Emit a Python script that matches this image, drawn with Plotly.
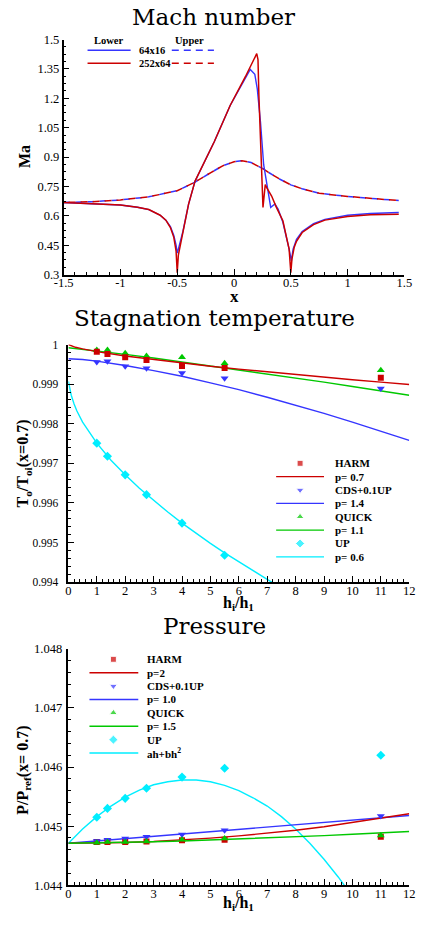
import plotly.graph_objects as go

# ---------------- data: Mach number ----------------
mach_x_upper = [-1.5, -1.25, -1.0, -0.75, -0.5, -0.35, -0.2, -0.1, 0.0, 0.07, 0.15, 0.2,
                0.25, 0.3, 0.4, 0.5, 0.6, 0.75, 1.0, 1.25, 1.45]
mach_upper_64 = [0.668, 0.672, 0.681, 0.697, 0.728, 0.770, 0.822, 0.855, 0.876, 0.881, 0.872, 0.858,
                 0.842, 0.823, 0.788, 0.758, 0.738, 0.715, 0.699, 0.687, 0.678]
mach_upper_252 = [0.668, 0.672, 0.681, 0.697, 0.728, 0.770, 0.822, 0.855, 0.876, 0.881, 0.872, 0.858,
                  0.842, 0.823, 0.788, 0.758, 0.738, 0.715, 0.699, 0.687, 0.678]

mach_x_lower_64 = [-1.5, -1.25, -1.0, -0.85, -0.75, -0.65, -0.6, -0.56, -0.53, -0.51, -0.5, -0.49,
                   -0.47, -0.45, -0.4, -0.343, -0.174, -0.034, 0.143, 0.183, 0.205, 0.233, 0.261,
                   0.289, 0.323, 0.36, 0.388, 0.43, 0.46, 0.485, 0.505, 0.52, 0.55, 0.6, 0.7, 0.8,
                   1.0, 1.2, 1.45]
mach_lower_64 = [0.668, 0.663, 0.655, 0.644, 0.632, 0.603, 0.578, 0.545, 0.50, 0.45, 0.41, 0.43,
                 0.47, 0.52, 0.66, 0.777, 0.978, 1.163, 1.347, 1.322, 1.247, 1.079, 0.861,
                 0.760, 0.643, 0.660, 0.634, 0.567, 0.50, 0.43, 0.37, 0.43, 0.48, 0.52, 0.56, 0.582,
                 0.603, 0.612, 0.617]

mach_x_lower_252 = [-1.5, -1.25, -1.0, -0.85, -0.75, -0.65, -0.6, -0.56, -0.53, -0.51, -0.5, -0.49,
                    -0.47, -0.45, -0.4, -0.343, -0.174, -0.034, 0.1, 0.200, 0.211, 0.219, 0.233,
                    0.247, 0.255, 0.275, 0.289, 0.331, 0.373, 0.43, 0.46, 0.485, 0.5, 0.51, 0.53,
                    0.55, 0.6, 0.7, 0.8, 1.0, 1.2, 1.45]
mach_lower_252 = [0.668, 0.663, 0.655, 0.644, 0.632, 0.603, 0.578, 0.54, 0.49, 0.42, 0.31, 0.40,
                  0.46, 0.52, 0.66, 0.777, 0.978, 1.163, 1.31, 1.428, 1.398, 1.213, 0.961,
                  0.760, 0.643, 0.760, 0.743, 0.701, 0.643, 0.575, 0.50, 0.43, 0.31, 0.38, 0.44,
                  0.47, 0.515, 0.555, 0.578, 0.597, 0.605, 0.608]

mach_xticks = [-1.5, -1, -0.5, 0, 0.5, 1, 1.5]
mach_xtick_text = ["-1.5", "-1", "-0.5", "0", "0.5", "1", "1.5"]
mach_yticks = [0.3, 0.45, 0.6, 0.75, 0.9, 1.05, 1.2, 1.35, 1.5]
mach_ytick_text = ["0.3", "0.45", "0.6", "0.75", "0.9", "1.05", "1.2", "1.35", "1.5"]

# ---------------- data: Stagnation temperature ----------------
h_ratio = [1, 1.375, 2, 2.75, 4, 5.5, 11]
T_harm = [0.99982, 0.99976, 0.99968, 0.99961, 0.99946, 0.99941, 0.99916]
T_cds = [0.99956, 0.99958, 0.99945, 0.99940, 0.99928, 0.99915, 0.99889]
T_quick = [0.99986, 0.99986, 0.99978, 0.99971, 0.99968, 0.99953, 0.99935]
h_up_T = [1, 1.375, 2, 2.75, 4, 5.5]
T_up = [0.99751, 0.99718, 0.99671, 0.99621, 0.99549, 0.99468]

h_fit = [0, 0.25, 0.5, 1, 2, 3, 4, 5, 6, 7, 8, 9, 10, 11, 12]
T_fit_harm = [1.00000, 0.99993, 0.99989, 0.99982, 0.99971, 0.99962, 0.99953, 0.99945, 0.99938,
              0.99931, 0.99924, 0.99917, 0.99911, 0.99905, 0.99899]
T_fit_cds = [0.99964, 0.99963, 0.99962, 0.99958, 0.99947, 0.99934, 0.99920, 0.99903, 0.99886,
             0.99867, 0.99847, 0.99826, 0.99804, 0.99781, 0.99758]
T_fit_quick = [0.99992, 0.99990, 0.99988, 0.99984, 0.99975, 0.99966, 0.99956, 0.99946, 0.99936,
               0.99926, 0.99915, 0.99905, 0.99894, 0.99883, 0.99872]
h_fit_up_T = [0, 0.05, 0.1, 0.2, 0.3, 0.5, 0.75, 1, 1.5, 2, 2.5, 3, 3.5, 4, 4.5, 5, 5.5, 6, 6.5,
              7, 7.5]
T_fit_up = [0.99907, 0.99888, 0.99872, 0.99850, 0.99832, 0.99804, 0.99776, 0.99751, 0.99708,
            0.99671, 0.99637, 0.99606, 0.99577, 0.99549, 0.99523, 0.99498, 0.99474, 0.99451,
            0.99428, 0.99407, 0.99385]

T_yticks = [0.994, 0.995, 0.996, 0.997, 0.998, 0.999, 1.0]
T_ytick_text = ["0.994", "0.995", "0.996", "0.997", "0.998", "0.999", "1"]
h_xticks = list(range(0, 13))

# ---------------- data: Pressure ----------------
P_harm = [1.04473, 1.04473, 1.04473, 1.04474, 1.04476, 1.04477, 1.04482]
P_cds = [1.04475, 1.04477, 1.04479, 1.04482, 1.04486, 1.04493, 1.04517]
P_quick = [1.04472, 1.04473, 1.04473, 1.04474, 1.04477, 1.04479, 1.04484]
P_up = [1.04515, 1.04530, 1.04547, 1.04564, 1.04583, 1.04598, 1.04620]

h_fit_P = [0, 1, 2, 3, 4, 5, 6, 7, 8, 9, 10, 11, 12]
P_fit_harm = [1.044710, 1.044713, 1.044724, 1.044741, 1.044766, 1.044797, 1.044835, 1.044880,
              1.044930, 1.044990, 1.045060, 1.045130, 1.045210]
P_fit_cds = [1.044710, 1.044749, 1.044788, 1.044828, 1.044867, 1.044906, 1.044945, 1.044984,
             1.045023, 1.045063, 1.045102, 1.045141, 1.045180]
P_fit_quick = [1.044710, 1.044715, 1.044724, 1.044735, 1.044748, 1.044764, 1.044781, 1.044799,
               1.044819, 1.044840, 1.044862, 1.044885, 1.044910]
h_fit_up_P = [0, 0.5, 1, 1.5, 2, 2.5, 3, 3.5, 4, 4.5, 5, 5.5, 6, 6.5, 7, 7.5, 8, 8.5, 9, 9.5, 10]
P_fit_up = [1.04471, 1.04495, 1.04516, 1.04534, 1.04549, 1.04561, 1.04570, 1.04575, 1.04578,
            1.04578, 1.04575, 1.04569, 1.04560, 1.04548, 1.04534, 1.04516, 1.04495, 1.04471,
            1.04444, 1.04414, 1.04381]

P_yticks = [1.044, 1.045, 1.046, 1.047, 1.048]
P_ytick_text = ["1.044", "1.045", "1.046", "1.047", "1.048"]

# ---------------- styling ----------------
W, H = 422, 926
RED = "#cc0000"
BLUE = "#3535ff"
GREEN = "#00c800"
CYAN = "#00eeff"
SERIF = "Liberation Serif"
TITLE_FONT = dict(family="DejaVu Serif", size=23, color="black")
TICK_FONT = dict(family=SERIF, size=12.5, color="black")
TICK_FONT_T = dict(family=SERIF, size=11.5, color="black")
LEG_FONT = dict(family=SERIF, size=11, color="black")


def px_x(x):
    return x / W


def px_y(y):
    return 1 - y / H


fig = go.Figure()

# Mach number traces (upper dashed curves interleave their dashes)
fig.add_trace(go.Scatter(x=mach_x_upper, y=mach_upper_64, mode="lines",
                         line=dict(color=BLUE, width=1.5, dash="6px,6px"), xaxis="x", yaxis="y"))
fig.add_trace(go.Scatter(x=mach_x_upper, y=mach_upper_252, mode="lines",
                         line=dict(color=RED, width=1.5, dash="0px,5px,7px,0px"), xaxis="x", yaxis="y"))
fig.add_trace(go.Scatter(x=mach_x_lower_64, y=mach_lower_64, mode="lines",
                         line=dict(color=BLUE, width=1.4), xaxis="x", yaxis="y"))
fig.add_trace(go.Scatter(x=mach_x_lower_252, y=mach_lower_252, mode="lines",
                         line=dict(color=RED, width=1.5), xaxis="x", yaxis="y"))

# Stagnation temperature traces
for hx, yy, c in [(h_fit, T_fit_quick, GREEN), (h_fit, T_fit_cds, BLUE),
                  (h_fit_up_T, T_fit_up, CYAN), (h_fit, T_fit_harm, RED)]:
    fig.add_trace(go.Scatter(x=hx, y=yy, mode="lines", line=dict(color=c, width=1.4),
                             xaxis="x2", yaxis="y2"))
fig.add_trace(go.Scatter(x=h_ratio, y=T_quick, mode="markers",
                         marker=dict(symbol="triangle-up", size=7, color=GREEN), xaxis="x2", yaxis="y2"))
fig.add_trace(go.Scatter(x=h_ratio, y=T_cds, mode="markers",
                         marker=dict(symbol="triangle-down", size=7, color=BLUE), xaxis="x2", yaxis="y2"))
fig.add_trace(go.Scatter(x=h_up_T, y=T_up, mode="markers",
                         marker=dict(symbol="diamond", size=7, color=CYAN), xaxis="x2", yaxis="y2"))
fig.add_trace(go.Scatter(x=h_ratio, y=T_harm, mode="markers",
                         marker=dict(symbol="square", size=6, color=RED), xaxis="x2", yaxis="y2"))

# Pressure traces
for hx, yy, c in [(h_fit_up_P, P_fit_up, CYAN), (h_fit_P, P_fit_cds, BLUE),
                  (h_fit_P, P_fit_harm, RED), (h_fit_P, P_fit_quick, GREEN)]:
    fig.add_trace(go.Scatter(x=hx, y=yy, mode="lines", line=dict(color=c, width=1.4),
                             xaxis="x3", yaxis="y3"))
fig.add_trace(go.Scatter(x=h_ratio, y=P_harm, mode="markers",
                         marker=dict(symbol="square", size=6, color=RED), xaxis="x3", yaxis="y3"))
fig.add_trace(go.Scatter(x=h_ratio, y=P_cds, mode="markers",
                         marker=dict(symbol="triangle-down", size=7, color=BLUE), xaxis="x3", yaxis="y3"))
fig.add_trace(go.Scatter(x=h_ratio, y=P_quick, mode="markers",
                         marker=dict(symbol="triangle-up", size=7, color=GREEN), xaxis="x3", yaxis="y3"))
fig.add_trace(go.Scatter(x=h_ratio, y=P_up, mode="markers",
                         marker=dict(symbol="diamond", size=7, color=CYAN), xaxis="x3", yaxis="y3"))


def axis_common(**kw):
    d = dict(showline=True, linecolor="black", linewidth=1.5, mirror=False, showgrid=False,
             zeroline=False, ticks="inside", ticklen=6, tickwidth=1, tickcolor="black",
             tickfont=TICK_FONT, fixedrange=True)
    d.update(kw)
    return d


minor_x_mach = dict(dtick=0.1, ticklen=3, ticks="inside", tickcolor="black", tickwidth=1)
minor_y_mach = dict(dtick=0.0375, tick0=0.3, ticklen=3, ticks="inside", tickcolor="black", tickwidth=1)
minor_h = dict(dtick=0.2, ticklen=3, ticks="inside", tickcolor="black", tickwidth=1)
minor_T = dict(dtick=0.0002, tick0=0.994, ticklen=3, ticks="inside", tickcolor="black", tickwidth=1)
minor_P = dict(dtick=0.0002, tick0=1.044, ticklen=3, ticks="inside", tickcolor="black", tickwidth=1)

fig.update_layout(
    width=W, height=H, autosize=False,
    margin=dict(l=0, r=0, t=0, b=0),
    paper_bgcolor="white", plot_bgcolor="rgba(0,0,0,0)",
    showlegend=False,
    xaxis=axis_common(domain=[px_x(56), px_x(412)], range=[-1.5, 1.5], anchor="y",
                      tickvals=mach_xticks, ticktext=mach_xtick_text, minor=minor_x_mach,
                      ticklabelstandoff=-4),
    yaxis=axis_common(domain=[px_y(271.7), px_y(33)], range=[0.3, 1.5], anchor="x",
                      tickvals=mach_yticks, ticktext=mach_ytick_text, minor=minor_y_mach),
    xaxis2=axis_common(domain=[px_x(61), px_x(417)], range=[0, 12], anchor="y2",
                       tickvals=h_xticks, minor=minor_h, ticklabelstandoff=-4),
    yaxis2=axis_common(domain=[px_y(584), px_y(342.7)], range=[0.994, 1.0], anchor="x2",
                       tickvals=T_yticks, ticktext=T_ytick_text, minor=minor_T,
                       tickfont=TICK_FONT_T, ticklabelstandoff=6),
    xaxis3=axis_common(domain=[px_x(61), px_x(417)], range=[0, 12], anchor="y3",
                       tickvals=h_xticks, minor=minor_h, ticklabelstandoff=-4),
    yaxis3=axis_common(domain=[px_y(891.7), px_y(651.7)], range=[1.044, 1.048], anchor="x3",
                       tickvals=P_yticks, ticktext=P_ytick_text, minor=minor_P,
                       ticklabelstandoff=2),
    xaxis4=dict(domain=[0, 1], range=[0, W], visible=False, anchor="y4", fixedrange=True),
    yaxis4=dict(domain=[0, 1], range=[H, 0], visible=False, anchor="x4", fixedrange=True),
)

annotations = []
shapes = []


def text(x, y, s, font, xanchor="center", angle=0):
    annotations.append(dict(x=px_x(x), y=px_y(y), xref="paper", yref="paper", text=s,
                            showarrow=False, font=font, xanchor=xanchor, yanchor="middle",
                            textangle=angle))


def hline(x0, x1, y, color, dash="solid", width=1.5):
    shapes.append(dict(type="line", xref="paper", yref="paper", x0=px_x(x0), x1=px_x(x1),
                       y0=px_y(y), y1=px_y(y), line=dict(color=color, width=width, dash=dash)))


# titles
text(213, 10, "Mach number", TITLE_FONT)
text(214, 316, "Stagnation temperature", TITLE_FONT)
text(214, 629, "Pressure", TITLE_FONT)

AX_FONT = dict(family=SERIF, size=16, color="black")
text(234, 294, "<b>x</b>", dict(family=SERIF, size=17, color="black"))
text(15, 152, "<b>Ma</b>", AX_FONT, angle=-90)
text(239, 606, "<b>h<sub>i</sub>/h<sub>1</sub></b>", AX_FONT)
text(14, 463, "<b>T<sub>o</sub>/T<sub>oi</sub>(x=0.7)</b>", AX_FONT, angle=-90)
text(239, 910, "<b>h<sub>i</sub>/h<sub>1</sub></b>", AX_FONT)
text(14, 775, "<b>P/P<sub>ref</sub>(x= 0.7)</b>", AX_FONT, angle=-90)

# Mach legend
MLEG = dict(family=SERIF, size=10.5, color="black")
text(103, 34, "<b>Lower</b>", MLEG)
text(188, 34, "<b>Upper</b>", MLEG)
mach_leg_rows = [("64x16", BLUE, 44), ("252x64", RED, 57)]
for label, c, yy in mach_leg_rows:
    hline(81, 126, yy, c)
    hline(169, 213, yy, c, dash="7px,5px")
    text(133, yy, "<b>%s</b>" % label, MLEG, xanchor="left")

# Temperature / Pressure legends
T_legend = [("HARM", "square", RED), ("p= 0.7", None, RED),
            ("CDS+0.1UP", "triangle-down", BLUE), ("p= 1.4", None, BLUE),
            ("QUICK", "triangle-up", GREEN), ("p= 1.1", None, GREEN),
            ("UP", "diamond", CYAN), ("p= 0.6", None, CYAN)]
P_legend = [("HARM", "square", RED), ("p=2", None, RED),
            ("CDS+0.1UP", "triangle-down", BLUE), ("p= 1.0", None, BLUE),
            ("QUICK", "triangle-up", GREEN), ("p= 1.5", None, GREEN),
            ("UP", "diamond", CYAN), ("ah+bh<sup>2</sup>", None, CYAN)]


def draw_legend(entries, x_mark, x_l0, x_l1, x_text, y0, dy):
    mx, my, ms, mc = [], [], [], []
    for i, (label, sym, c) in enumerate(entries):
        yy = y0 + i * dy
        if sym is None:
            hline(x_l0, x_l1, yy, c, width=1.4)
        else:
            mx.append(x_mark)
            my.append(yy)
            ms.append(sym)
            mc.append(c)
        text(x_text, yy, "<b>%s</b>" % label, LEG_FONT, xanchor="left")
    fig.add_trace(go.Scatter(x=mx, y=my, mode="markers", xaxis="x4", yaxis="y4",
                             marker=dict(symbol=ms, color=mc, size=[6 if s == "square" else 7 for s in ms]),
                             hoverinfo="skip"))


draw_legend(T_legend, 303, 278, 328, 337, 463.3, 13.57)
draw_legend(P_legend, 108, 83, 134, 141, 662.3, 13.6)

fig.update_layout(annotations=annotations, shapes=shapes)
fig.write_html(
    "out.html",
    config={"displayModeBar": False},
    post_script="document.body.style.margin='0px';document.body.style.padding='0px';"
                "document.body.style.overflow='hidden';",
)
